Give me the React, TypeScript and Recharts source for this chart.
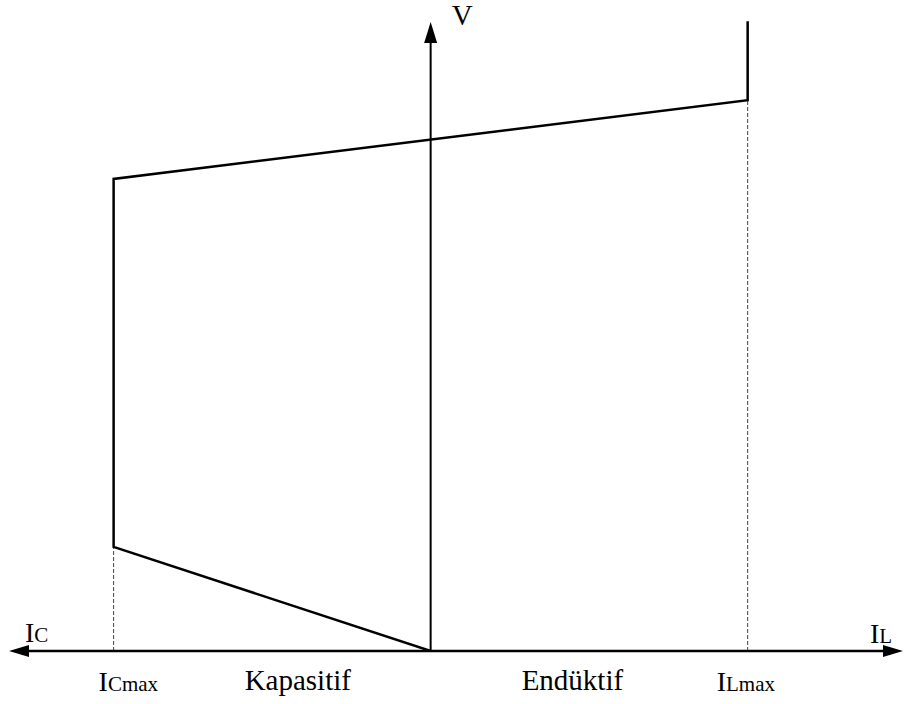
import React from 'react';
import { LineChart, Line, XAxis, YAxis, ReferenceLine, ReferenceDot } from 'recharts';

// characteristic: current (IC negative, IL positive) vs voltage, normalised
const currentI = [0, -1, -1, 1, 1];
const voltageV = [0, 0.189, 0.857, 1.0, 1.143];

const iCmax = -1;
const iLmax = 1;
const iAxisRange = [-1.33, 1.49];
const vAxisRange = [0, 1.16];
const vArrowTip = 1.142;

// axis texts
const labelMain = ['I', 'I', 'Kapasitif', 'Endüktif', 'I', 'I', 'V'];
const labelSub = ['C', 'Cmax', '', '', 'Lmax', 'L', ''];
const labelAtI = [-1.33, -1, 0, 0, 1, 1.49, 0];
const labelAtV = [0, 0, 0, 0, 0, 0, vArrowTip];

// pixel offsets of each text from its anchor point
const labelOffset = [
  { dx: 16, dy: -9 },
  { dx: -15, dy: 40 },
  { dx: -186, dy: 39 },
  { dx: 91, dy: 39 },
  { dx: -31, dy: 40 },
  { dx: -33, dy: -8 },
  { dx: 21, dy: 3 },
];

const data = currentI.map((i, idx) => ({ i, v: voltageV[idx] }));

const FONT = "'Liberation Serif', 'Times New Roman', serif";

const HorizontalAxis = (props: any) => {
  const { x1, y1, x2 } = props;
  const l = Math.min(x1, x2);
  const r = Math.max(x1, x2);
  return (
    <g>
      <line x1={l + 10} y1={y1} x2={r - 10} y2={y1} stroke="#000" strokeWidth={2.5} />
      <polygon points={`${l},${y1} ${l + 20},${y1 - 6} ${l + 20},${y1 + 6}`} fill="#000" />
      <polygon points={`${r},${y1} ${r - 20},${y1 - 6} ${r - 20},${y1 + 6}`} fill="#000" />
    </g>
  );
};

const VerticalAxis = (props: any) => {
  const { x1, y1, y2 } = props;
  const top = Math.min(y1, y2);
  const bottom = Math.max(y1, y2);
  return (
    <g>
      <line x1={x1} y1={bottom} x2={x1} y2={top + 10} stroke="#000" strokeWidth={2} />
      <polygon points={`${x1},${top} ${x1 - 6.5},${top + 21} ${x1 + 6.5},${top + 21}`} fill="#000" />
    </g>
  );
};

const makeLabel = (idx: number) => (props: any) => {
  const { cx, cy } = props;
  const big = idx === 2 || idx === 3 || idx === 6 ? 29 : 28;
  return (
    <text
      x={cx + labelOffset[idx].dx}
      y={cy + labelOffset[idx].dy}
      style={{ fontFamily: FONT, fontSize: big }}
      fill="#000"
      textAnchor="start"
    >
      {labelMain[idx]}
      {labelSub[idx] && <tspan style={{ fontSize: 21 }}>{labelSub[idx]}</tspan>}
    </text>
  );
};

export default function App() {
  return (
    <div style={{ position: 'absolute', left: 0, top: 0, width: 906, height: 704, background: '#fff' }}>
      <LineChart
        width={906}
        height={704}
        data={data}
        margin={{ top: 12, right: 3, bottom: 53, left: 9 }}
      >
        <XAxis dataKey="i" type="number" domain={iAxisRange} allowDataOverflow hide />
        <YAxis type="number" domain={vAxisRange} allowDataOverflow hide />

        <ReferenceLine
          segment={[{ x: iCmax, y: 0 }, { x: iCmax, y: voltageV[1] }]}
          stroke="#444"
          strokeWidth={1}
          strokeDasharray="4 2"
        />
        <ReferenceLine
          segment={[{ x: iLmax, y: 0 }, { x: iLmax, y: voltageV[3] }]}
          stroke="#444"
          strokeWidth={1}
          strokeDasharray="4 2"
        />

        <ReferenceLine
          segment={[{ x: iAxisRange[0], y: 0 }, { x: iAxisRange[1], y: 0 }]}
          shape={HorizontalAxis}
        />
        <ReferenceLine
          segment={[{ x: 0, y: 0 }, { x: 0, y: vArrowTip }]}
          shape={VerticalAxis}
        />

        <Line
          type="linear"
          dataKey="v"
          stroke="#000"
          strokeWidth={2.5}
          dot={false}
          activeDot={false}
          isAnimationActive={false}
        />

        {labelMain.map((_, idx) => (
          <ReferenceDot
            key={idx}
            x={labelAtI[idx]}
            y={labelAtV[idx]}
            r={0}
            ifOverflow="visible"
            shape={makeLabel(idx)}
          />
        ))}
      </LineChart>
    </div>
  );
}
